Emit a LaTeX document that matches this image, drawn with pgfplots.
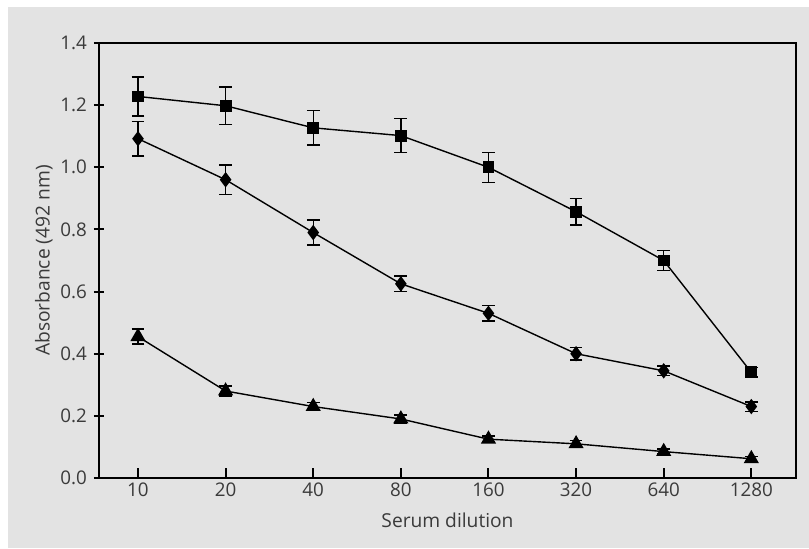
\documentclass[border=0pt]{standalone}
\usepackage{pgfplots}
\pgfplotsset{compat=1.18}
\usepackage{fontspec}
\setmainfont{Open Sans}
\definecolor{bg}{HTML}{E3E3E3}
\definecolor{txt}{HTML}{3A3A3A}

\pgfplotstableread{
x   sq    sqe    di    die    tr     tre
0   1.228 0.063  1.092 0.056  0.455  0.024
1   1.198 0.060  0.960 0.047  0.280  0.016
2   1.127 0.055  0.790 0.040  0.230  0.013
3   1.102 0.055  0.625 0.025  0.190  0.013
4   1.000 0.048  0.530 0.025  0.125  0.010
5   0.857 0.043  0.400 0.020  0.110  0.010
6   0.700 0.033  0.345 0.015  0.085  0.008
7   0.340 0.015  0.230 0.015  0.062  0.008
}\data

\begin{document}
\begin{tikzpicture}
\fill[white] (-49.5pt,-35pt) rectangle (355pt,239pt);
\fill[bg] (-45.5pt,-35pt) rectangle (355pt,235.5pt);
\begin{axis}[
    scale only axis,
    width=348.5pt,
    height=217.5pt,
    xmin=-0.445, xmax=7.51,
    ymin=0, ymax=1.4,
    xtick={0,...,7},
    xticklabels={10,20,40,80,160,320,640,1280},
    ytick={0,0.2,...,1.4},
    xtick pos=bottom,
    ytick pos=left,
    axis line style={line width=1pt},
    tick style={line width=1pt, black},
    major tick length=5pt,
    xtick align=inside,
    ytick align=center,
    tick label style={font=\fontsize{9.4}{11}\selectfont, text=txt},
    label style={font=\fontsize{9.6}{11}\selectfont, text=txt},
    /pgf/number format/assume math mode=true,
    yticklabel style={/pgf/number format/fixed, /pgf/number format/fixed zerofill, /pgf/number format/precision=1},
    xticklabel style={yshift=1pt},
    xlabel={Serum dilution},
    ylabel={Absorbance (492 nm)},
    xlabel style={yshift=-1pt},
    ylabel style={yshift=-3pt},
    every axis plot/.append style={line width=0.7pt, black},
    error bars/error bar style={line width=0.7pt, black},
    error bars/error mark options={rotate=90, mark size=3.2pt, line width=0.7pt, black},
]
\addplot[mark=square*, mark size=2.6pt, mark options={solid, fill=black},
    error bars/.cd, y dir=both, y explicit]
    table[x=x, y=sq, y error=sqe] {\data};
\addplot[mark=diamond*, mark size=3.3pt, mark options={solid, fill=black},
    error bars/.cd, y dir=both, y explicit]
    table[x=x, y=di, y error=die] {\data};
\addplot[mark=triangle*, mark size=3.7pt, mark options={solid, fill=black},
    error bars/.cd, y dir=both, y explicit]
    table[x=x, y=tr, y error=tre] {\data};
\end{axis}
\end{tikzpicture}
\end{document}
